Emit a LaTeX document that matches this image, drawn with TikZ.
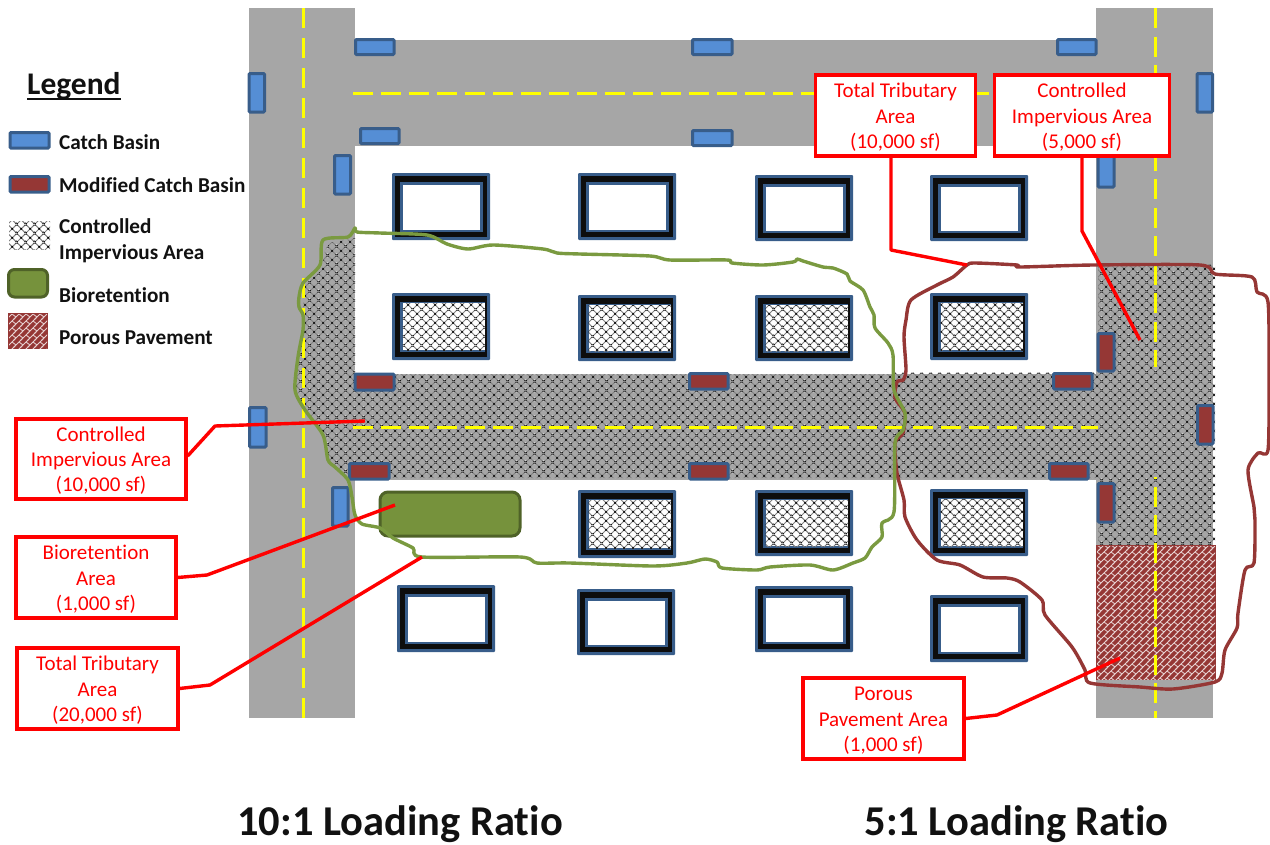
\documentclass[tikz,border=0pt]{standalone}
\usepackage{fontspec}
\setmainfont[Ligatures=NoCommon]{Carlito}
\usetikzlibrary{patterns,patterns.meta}
\definecolor{road}{HTML}{A6A6A6}
\definecolor{basinblue}{HTML}{558ED5}
\definecolor{basinedge}{HTML}{385D8A}
\definecolor{basinred}{HTML}{953735}
\definecolor{bioGreen}{HTML}{76923C}
\definecolor{bioEdge}{HTML}{4F6228}
\definecolor{traceGreen}{HTML}{7A9A40}
\definecolor{traceRed}{HTML}{953735}
\definecolor{laneYellow}{HTML}{FFFF00}
\definecolor{legendtext}{HTML}{111111}
\pgfdeclarepatternformonly{dbrick}{\pgfqpoint{-1pt}{-1pt}}{\pgfqpoint{9pt}{9pt}}{\pgfqpoint{7pt}{7pt}}{
  \pgfsetlinewidth{0.85pt}
  \pgfpathmoveto{\pgfqpoint{-1pt}{-1pt}}\pgfpathlineto{\pgfqpoint{8pt}{8pt}}
  \pgfpathmoveto{\pgfqpoint{2pt}{2pt}}\pgfpathlineto{\pgfqpoint{0pt}{3.5pt}}
  \pgfpathmoveto{\pgfqpoint{7pt}{3.5pt}}\pgfpathlineto{\pgfqpoint{5pt}{5pt}}
  \pgfusepath{stroke}
}
\pgfdeclarepatterninherentlycolored{softcross}{\pgfqpoint{0pt}{0pt}}{\pgfqpoint{8.6pt}{8.6pt}}{\pgfqpoint{8.6pt}{8.6pt}}{
  \pgfsetlinewidth{1.05pt}
  \pgfsetstrokecolor{black!50}
  \pgfpathmoveto{\pgfqpoint{0pt}{0pt}}\pgfpathlineto{\pgfqpoint{8.6pt}{8.6pt}}
  \pgfpathmoveto{\pgfqpoint{0pt}{8.6pt}}\pgfpathlineto{\pgfqpoint{8.6pt}{0pt}}
  \pgfusepath{stroke}
  \pgfsetlinewidth{0.6pt}
  \pgfsetstrokecolor{black}
  \pgfpathmoveto{\pgfqpoint{3.5pt}{3.5pt}}\pgfpathlineto{\pgfqpoint{5.1pt}{5.1pt}}
  \pgfpathmoveto{\pgfqpoint{3.5pt}{5.1pt}}\pgfpathlineto{\pgfqpoint{5.1pt}{3.5pt}}
  \pgfpathmoveto{\pgfqpoint{0pt}{0pt}}\pgfpathlineto{\pgfqpoint{0.8pt}{0.8pt}}
  \pgfpathmoveto{\pgfqpoint{8.6pt}{8.6pt}}\pgfpathlineto{\pgfqpoint{7.8pt}{7.8pt}}
  \pgfpathmoveto{\pgfqpoint{0pt}{8.6pt}}\pgfpathlineto{\pgfqpoint{0.8pt}{7.8pt}}
  \pgfpathmoveto{\pgfqpoint{8.6pt}{0pt}}\pgfpathlineto{\pgfqpoint{7.8pt}{0.8pt}}
  \pgfusepath{stroke}
}
\tikzset{
  x=1pt,y=-1pt,
  roadfill/.style={fill=road,draw=none},
  hatchfill/.style={pattern=softcross},
  brickfill/.style={pattern=dbrick,pattern color=white!78!basinred},
  lane/.style={draw=laneYellow,line width=3pt},
  basinA/.style={draw=basinedge,fill=basinblue,line width=3pt,rounded corners=1pt},
  basinB/.style={draw=basinedge,fill=basinred,line width=3pt,rounded corners=1pt},
  trace/.style={line width=3.4pt,line join=round,smooth cycle,tension=0.45},
  callout/.style={draw=red,fill=white,line width=3.2pt,text=red,font=\fontsize{21}{25.4}\selectfont,align=center,inner sep=0pt},
  leader/.style={draw=red,line width=3.4pt,line join=round},
  legendlabel/.style={anchor=west,inner sep=0pt,text=legendtext,font=\fontsize{21.2}{26}\selectfont\bfseries,align=left},
  ratio/.style={anchor=base,inner sep=0pt,text=legendtext,font=\fontsize{42.5}{50}\selectfont\bfseries},
}
\newcommand{\firstline}{\rule{0pt}{18pt}}
% building frame: x1 y1 x2 y2 (outer edge)
\newcommand{\bldgplain}[4]{%
  \fill[basinedge,rounded corners=1pt] (#1,#2) rectangle (#3,#4);
  \fill[black!95] (#1+3,#2+3.3) rectangle (#3-3.3,#4-3);
  \fill[basinedge] (#1+8.3,#2+8.5) rectangle (#3-6.6,#4-8);
  \fill[white] (#1+11,#2+11.5) rectangle (#3-10,#4-10.5);
}
\newcommand{\bldghatch}[4]{%
  \fill[basinedge,rounded corners=1pt] (#1,#2) rectangle (#3,#4);
  \fill[black!95] (#1+3,#2+3.3) rectangle (#3-3,#4-3);
  \fill[basinedge] (#1+8.3,#2+8.5) rectangle (#3-5.5,#4-8.3);
  \fill[white] (#1+10.7,#2+10) rectangle (#3-5,#4-10);
  \fill[hatchfill] (#1+10.7,#2+10) rectangle (#3-5,#4-10);
}
\begin{document}
\begin{tikzpicture}
\useasboundingbox (0,0) rectangle (1270,844);
% roads
\fill[roadfill] (249,8) rectangle (355,718);
\fill[roadfill] (1096,8) rectangle (1213,718);
\fill[roadfill] (355,40) rectangle (1096,146);
\fill[roadfill] (355,374) rectangle (1096,480);
% controlled impervious hatch
\fill[hatchfill] (355,238) -- (330,243) -- (325,250) -- (322,270) -- (304,285) -- (303,310)
  -- (303,330) -- (298,357) -- (296,390) -- (305,410) -- (323,435) -- (328,460) -- (335,467)
  -- (348,478) -- (1098,478) -- (1098,545) -- (1215,545) -- (1215,264) -- (1098,264)
  -- (1098,372) -- (895,372) -- (895,374) -- (355,374) -- cycle;
% porous pavement
\fill[basinred] (1096,545) rectangle (1216,680);
\fill[brickfill] (1097,546) rectangle (1215,679);
% lane lines
\draw[lane,dash pattern=on 20pt off 10pt] (303,8) -- (303,718);
\draw[lane,dash pattern=on 20pt off 8pt] (353,93) -- (1096,93);
\draw[lane,dash pattern=on 20pt off 8pt] (353,427) -- (1098,427);
\draw[lane,dash pattern=on 20pt off 8.5pt] (1155,8) -- (1155,367);
\draw[lane,dash pattern=on 2pt off 8pt on 20pt off 8pt on 20pt off 8pt on 20pt off 8pt on 20pt off 8pt on 20pt off 8pt on 20pt off 8pt on 20pt off 8pt on 20pt off 8pt on 20pt off 0pt] (1155,477) -- (1155,718);
% buildings
\bldgplain{392}{173}{490}{240}
\bldgplain{578}{173}{676}{240}
\bldgplain{755}{175}{853}{241}
\bldgplain{930}{175}{1028}{241}
\bldghatch{392}{293}{490}{360}
\bldghatch{578}{295}{676}{361}
\bldghatch{755}{295}{853}{361}
\bldghatch{930}{293}{1028}{360}
\bldghatch{578}{490}{676}{558}
\bldghatch{755}{490}{853}{556}
\bldghatch{930}{489}{1028}{556}
\bldgplain{397}{585}{495}{652}
\bldgplain{577}{589}{675}{655}
\bldgplain{755}{586}{853}{652}
\bldgplain{930}{595}{1028}{662}
% bioretention
\draw[draw=bioEdge,fill=bioGreen,line width=3pt,rounded corners=8pt] (380,492) rectangle (520,536);
% catch basins
\draw[basinA] (355.5,39.5) rectangle (394,54.5);
\draw[basinA] (692.5,39.5) rectangle (732,54.5);
\draw[basinA] (1057.5,39.5) rectangle (1096,54.5);
\draw[basinA] (360.5,128.5) rectangle (399,143.5);
\draw[basinA] (692.5,130.5) rectangle (732,145.5);
\draw[basinA] (249,73.5) rectangle (264.5,112);
\draw[basinA] (334.5,155.5) rectangle (350.5,194);
\draw[basinA] (1197,73.5) rectangle (1212.5,112);
\draw[basinA] (1098,149.5) rectangle (1114,187);
\draw[basinA] (249.5,407.5) rectangle (266,447);
\draw[basinA] (332.5,487.5) rectangle (348,526);
% modified basins
\draw[basinB] (355,374) rectangle (394,390);
\draw[basinB] (349.5,463.5) rectangle (389,479);
\draw[basinB] (689.5,373.5) rectangle (728,389);
\draw[basinB] (689.5,463.5) rectangle (728,479);
\draw[basinB] (1053.5,373.5) rectangle (1092,389);
\draw[basinB] (1049.5,463.5) rectangle (1088,479);
\draw[basinB] (1098,333.5) rectangle (1114,371);
\draw[basinB] (1098,483.5) rectangle (1114,522);
\draw[basinB] (1197.5,405.5) rectangle (1213,444);
% red tributary trace
\draw[traceRed,trace] plot coordinates {
 (967,265) (975,263) (1017,265) (1020,267) (1093,265) (1200,265) (1215,274) (1252,277) (1257,292)
 (1268,302) (1269,380) (1268,450) (1258,453) (1248,470) (1254,507) (1255,520) (1254,563) (1245,570)
 (1238,613) (1237,628) (1225,650) (1222,673) (1215,682) (1173,689) (1140,687) (1090,683) (1085,670)
 (1072,647) (1045,615) (1042,600) (1020,582) (1007,578) (983,577) (960,565) (937,560) (917,540)
 (905,517) (904,500) (897,473) (895,443) (903,433) (905,413) (895,398) (897,382) (903,380) (906,370)
 (904,337) (906,320) (911,300) (937,285) (953,277)};
% green tributary trace
\draw[traceGreen,trace] plot coordinates {
 (355,228) (357,232) (380,233) (427,235) (447,244) (468,249) (493,245) (543,249) (557,253) (580,254)
 (650,256) (670,260) (727,260) (732,263) (763,265) (793,262) (797,259) (803,261) (823,267) (833,268)
 (847,274) (850,281) (863,290) (870,307) (874,315) (875,328) (888,343) (893,355) (894,390) (905,413)
 (903,430) (895,443) (894,512) (882,523) (882,537) (872,547) (865,558) (853,563) (833,570) (810,565)
 (770,567) (757,570) (722,568) (717,562) (705,559) (687,563) (653,566) (570,563) (537,563) (520,557)
 (422,557) (413,548) (393,538) (380,528) (362,524) (355,515) (352,497) (348,480) (335,467) (328,460)
 (323,435) (305,410) (295,390) (298,357) (303,330) (303,315) (299,307) (299,297) (303,283) (320,265)
 (323,240) (348,237)};
% callouts
\coordinate (endTTten) at (967,265);
\coordinate (endCIAfive) at (1140,340);
\coordinate (endCIAten) at (365,421);
\coordinate (endBio) at (395,505);
\coordinate (endTTtwenty) at (422,557);
\coordinate (endPorous) at (1120,658);
\coordinate (bendTTten) at (891,250);
\coordinate (bendCIAfive) at (1082,231);
\coordinate (bendCIAten) at (215,426);
\coordinate (bendBio) at (207,575);
\coordinate (bendTTtwenty) at (210,685);
\coordinate (bendPorous) at (997,715);
\node[callout,minimum width=160pt,minimum height=81pt] (ttten) at (895.5,115.5) {\firstline Total Tributary\\Area\\(10,000 sf)};
\node[callout,minimum width=175pt,minimum height=81pt] (ciafive) at (1082,115.5) {\firstline Controlled\\Impervious Area\\(5,000 sf)};
\node[callout,minimum width=170pt,minimum height=80pt] (ciaten) at (101,459) {\firstline Controlled\\Impervious Area\\(10,000 sf)};
\node[callout,minimum width=160pt,minimum height=81pt] (biobox) at (96,577.5) {\firstline Bioretention\\Area\\(1,000 sf)};
\node[callout,minimum width=161pt,minimum height=81pt] (tttwenty) at (97.5,688.5) {\firstline Total Tributary\\Area\\(20,000 sf)};
\node[callout,minimum width=161pt,minimum height=81pt] (porousbox) at (883.5,718.5) {\firstline Porous\\Pavement Area\\(1,000 sf)};
\draw[leader] (ttten.south -| bendTTten) -- (bendTTten) -- (endTTten);
\draw[leader] (ciafive.south) -- (bendCIAfive) -- (endCIAfive);
\draw[leader] (ciaten.east) ++(0,-3) -- (bendCIAten) -- (endCIAten);
\draw[leader] (biobox.east) -- (bendBio) -- (endBio);
\draw[leader] (tttwenty.east) -- (bendTTtwenty) -- (endTTtwenty);
\draw[leader] (porousbox.east) -- (bendPorous) -- (endPorous);
% legend
\node[anchor=base west,inner sep=0pt,text=legendtext,font=\fontsize{31.5}{36}\selectfont\bfseries] (legendhead) at (27,94) {Legend};
\draw[legendtext,line width=1.8pt] (27,99) -- (121,99);
\draw[basinA] (10,132.5) rectangle (49,148);
\draw[basinB] (10,176.5) rectangle (49,192);
\fill[hatchfill] (9,221) rectangle (50,249);
\draw[draw=bioEdge,fill=bioGreen,line width=3pt,rounded corners=6pt] (8.5,269.5) rectangle (47.5,297);
\fill[basinred] (8,313) rectangle (48,349);
\fill[brickfill] (9,314) rectangle (47,348);
\node[legendlabel] (lgcb) at (59,142) {Catch Basin};
\node[legendlabel] (lgmcb) at (59,185) {Modified Catch Basin};
\node[legendlabel] (lgcia) at (59,241) {Controlled\\Impervious Area};
\node[legendlabel] (lgbio) at (59,295.5) {Bioretention};
\node[legendlabel] (lgpp) at (59,338) {Porous Pavement};
% ratios
\node[ratio] (ratioten) at (400,835) {10:1 Loading Ratio};
\node[ratio] (ratiofive) at (1016.5,835) {5:1 Loading Ratio};
\end{tikzpicture}
\end{document}
